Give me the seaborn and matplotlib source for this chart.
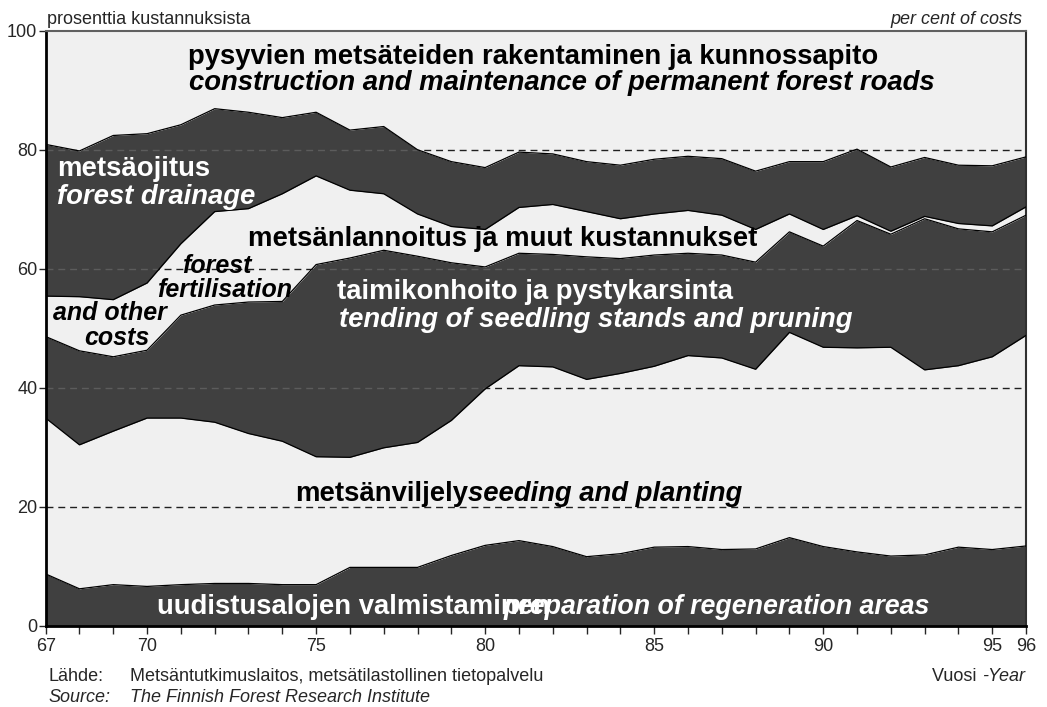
import numpy as np
import pandas as pd
import matplotlib.pyplot as plt
from matplotlib.path import Path
import seaborn as sns

# vuodet 1967-1996, osuudet prosentteina kustannuksista
years = list(range(67, 97))

uudistus = [8.7, 6.2, 6.9, 6.6, 6.9, 7.1, 7.1, 6.9, 6.9, 9.8,
            9.8, 9.8, 11.8, 13.5, 14.3, 13.3, 11.6, 12.1, 13.2, 13.3,
            12.8, 12.9, 14.8, 13.3, 12.4, 11.7, 11.9, 13.2, 12.8, 13.4]
viljely = [26.2, 24.2, 25.8, 28.3, 28.0, 27.1, 25.2, 24.1, 21.5, 18.5,
           20.1, 21.0, 22.7, 26.3, 29.4, 30.2, 29.8, 30.3, 30.4, 32.1,
           32.2, 30.2, 34.5, 33.5, 34.3, 35.1, 31.1, 30.5, 32.4, 35.4]
taimikko = [13.7, 15.8, 12.5, 11.4, 17.3, 19.7, 22.1, 23.5, 32.3, 33.5,
            33.2, 31.3, 26.5, 20.5, 18.9, 18.9, 20.6, 19.3, 18.7, 17.2,
            17.3, 18.0, 16.9, 17.0, 21.4, 19.0, 25.4, 23.0, 21.0, 20.2]
lannoitus = [6.8, 9.1, 9.6, 11.3, 12.0, 15.7, 15.7, 18.1, 14.9, 11.4,
             9.5, 7.1, 6.1, 6.3, 7.7, 8.4, 7.6, 6.7, 6.9, 7.2,
             6.7, 5.5, 3.0, 2.8, 0.8, 0.5, 0.4, 0.9, 1.0, 1.4]
ojitus = [25.5, 24.5, 27.6, 25.1, 20.0, 17.3, 16.2, 12.8, 10.7, 10.1,
          11.3, 10.8, 10.9, 10.4, 9.3, 8.5, 8.4, 9.0, 9.2, 9.1,
          9.5, 9.8, 8.8, 11.4, 11.2, 10.8, 9.9, 9.8, 10.1, 8.4]
tiet = [19.1, 20.2, 17.6, 17.3, 15.8, 13.1, 13.7, 14.6, 13.7, 16.7,
        16.1, 20.0, 22.0, 23.0, 20.4, 20.7, 22.0, 22.6, 21.6, 21.1,
        21.5, 23.6, 22.0, 22.0, 19.9, 22.9, 21.3, 22.6, 22.7, 21.2]

xtick_labels = {67: '67', 70: '70', 75: '75', 80: '80', 85: '85', 90: '90', 95: '95', 96: '96'}

dark = '#404040'
light = '#f0f0f0'

sns.set_style('ticks')
plt.rcParams['font.family'] = ['Liberation Sans', 'DejaVu Sans']

layers = [uudistus, viljely, taimikko, lannoitus, ojitus, tiet]
cum = np.cumsum(np.array(layers), axis=0)
df = pd.DataFrame({'year': years * 5,
                   'value': np.concatenate(cum[:5]),
                   'raja': np.repeat(range(5), len(years))})

fig = plt.figure(figsize=(10.47, 7.07), dpi=100)
ax = fig.add_axes([0.0436, 0.115, 0.9364, 0.8415])

polys = ax.stackplot(years, *layers, colors=[dark, light, dark, light, dark, light],
                     linewidth=0, zorder=1)
sns.lineplot(data=df, x='year', y='value', units='raja', estimator=None,
             color='black', linewidth=0.9, ax=ax, zorder=3, legend=False)

# katkoviivat: mustat vaaleilla alueilla, harmaat tummilla
light_path = Path.make_compound_path(*[p.get_paths()[0] for p in polys[1::2]])
dark_path = Path.make_compound_path(*[p.get_paths()[0] for p in polys[0::2]])
for y in [20, 40, 60, 80]:
    l1 = ax.axhline(y, color='#202020', linestyle=(0, (5, 3.5)), linewidth=1, zorder=2)
    l1.set_clip_path(light_path, transform=ax.transData)
    l2 = ax.axhline(y, color='#5c5c5c', linestyle=(0, (5, 3.5)), linewidth=1, zorder=2)
    l2.set_clip_path(dark_path, transform=ax.transData)

ax.set_xlim(67, 96)
ax.set_ylim(0, 100)
ax.set_xticks(years)
ax.set_xticklabels([xtick_labels.get(y, '') for y in years])
ax.set_yticks([0, 20, 40, 60, 80, 100])
ax.tick_params(axis='x', direction='out', length=6, width=1, pad=3, labelsize=13)
ax.tick_params(axis='y', direction='out', length=5, width=1, pad=1, labelsize=13)
ax.set_xlabel('')
ax.set_ylabel('')
for s in ['left', 'bottom']:
    ax.spines[s].set_linewidth(2)
    ax.spines[s].set_color('black')
ax.spines['top'].set_color('#606060')
ax.spines['top'].set_linewidth(1.5)
ax.spines['right'].set_color('#303030')
ax.spines['right'].set_linewidth(1.5)

fs = 19.8
bold = dict(fontsize=fs, fontweight='bold', va='baseline', ha='left')
ax.text(71.22, 94.4, 'pysyvien metsäteiden rakentaminen ja kunnossapito', color='black', **bold)
ax.text(71.24, 90.1, 'construction and maintenance of permanent forest roads', color='black', style='italic', **bold)
ax.text(67.33, 75.6, 'metsäojitus', color='white', **bold)
ax.text(67.33, 70.9, 'forest drainage', color='white', style='italic', **bold)
ax.text(73.0, 63.8, 'metsänlannoitus ja muut kustannukset', color='black', **bold)
ax.text(75.63, 54.9, 'taimikonhoito ja pystykarsinta', color='white', **bold)
ax.text(75.68, 50.2, 'tending of seedling stands and pruning', color='white', style='italic', **bold)
t = ax.text(74.38, 21.0, 'metsänviljely', color='black', **bold)
ax.annotate('seeding and planting', xy=(1, 0), xycoords=t, color='black', style='italic',
            fontsize=fs, fontweight='bold', va='bottom', ha='left')
# alkuperäisessä englanninkielinen teksti menee suomenkielisen päälle
ax.text(70.3, 2.0, 'uudistusalojen valmistaminen', color='white', **bold)
ax.text(80.55, 2.0, 'preparation of regeneration areas', color='white', style='italic',
        fontsize=19.3, fontweight='bold', va='baseline', ha='left')

small = dict(fontsize=18, fontweight='bold', style='italic', va='baseline', ha='center', color='black')
ax.text(72.05, 59.2, 'forest', **small)
ax.text(72.3, 55.3, 'fertilisation', **small)
ax.text(68.9, 51.4, 'and other', **small)
ax.text(69.1, 47.2, 'costs', **small)

fs2 = 13
fig.text(47 / 1047, 1 - 24 / 707, 'prosenttia kustannuksista', fontsize=fs2, va='baseline', ha='left')
fig.text(1022 / 1047, 1 - 24 / 707, 'per cent of costs', fontsize=fs2, style='italic', va='baseline', ha='right')
fig.text(48 / 1047, 1 - 681 / 707, 'Lähde:', fontsize=fs2, va='baseline', ha='left')
fig.text(130 / 1047, 1 - 681 / 707, 'Metsäntutkimuslaitos, metsätilastollinen tietopalvelu', fontsize=fs2, va='baseline', ha='left')
fig.text(48 / 1047, 1 - 702 / 707, 'Source:', fontsize=fs2, style='italic', va='baseline', ha='left')
fig.text(130 / 1047, 1 - 702 / 707, 'The Finnish Forest Research Institute', fontsize=fs2, style='italic', va='baseline', ha='left')
ty = fig.text(1025 / 1047, 1 - 681 / 707, '-Year', fontsize=fs2, style='italic', va='baseline', ha='right')
ax.annotate('Vuosi ', xy=(0, 0), xycoords=ty, fontsize=fs2, va='bottom', ha='right',
            annotation_clip=False)

fig.savefig('out.png', dpi=100)
